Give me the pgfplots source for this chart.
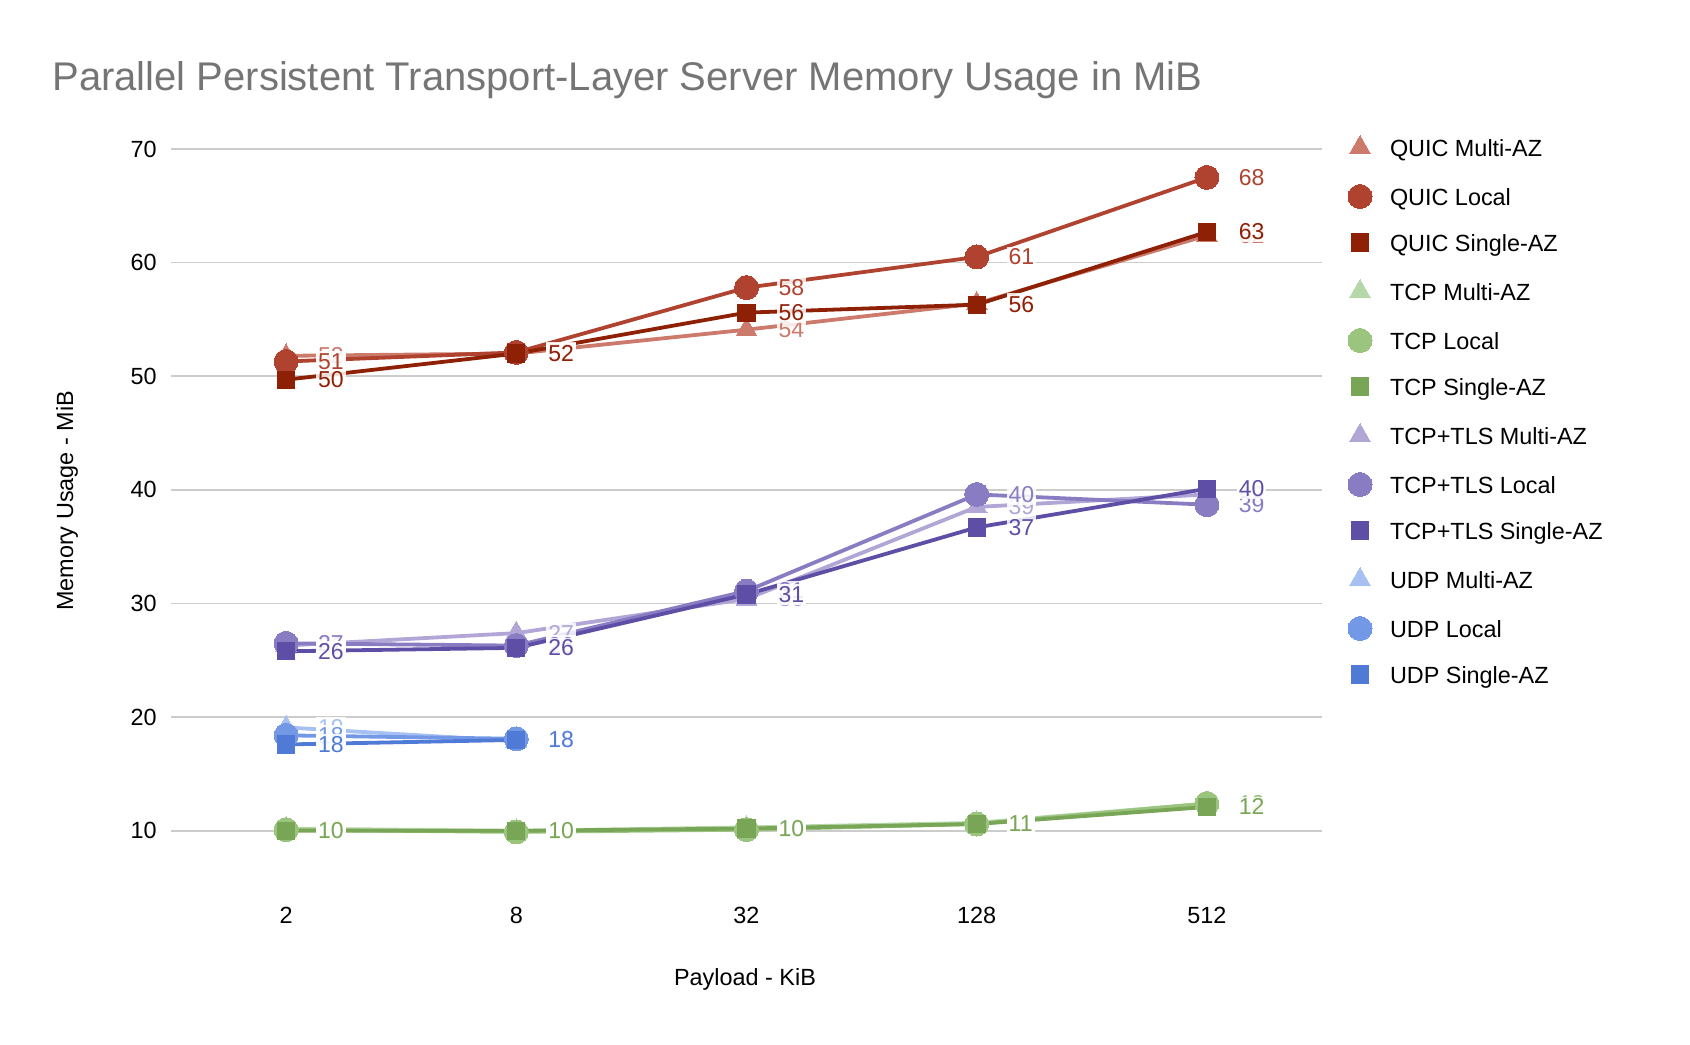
\documentclass[border=0pt]{standalone}
\usepackage{fontspec}
\setmainfont{Liberation Sans}
\usepackage{pgfplots}
\pgfplotsset{compat=1.18}

\definecolor{quicm}{HTML}{CC7A6B}
\definecolor{quicl}{HTML}{B0432F}
\definecolor{quics}{HTML}{8E2006}
\definecolor{tcpm}{HTML}{B6D7A8}
\definecolor{tcpl}{HTML}{9BC47F}
\definecolor{tcps}{HTML}{79A656}
\definecolor{tlsm}{HTML}{B1A6D6}
\definecolor{tlsl}{HTML}{8A7CC2}
\definecolor{tlss}{HTML}{5F4EA5}
\definecolor{udpm}{HTML}{A7C0F2}
\definecolor{udpl}{HTML}{7399E6}
\definecolor{udps}{HTML}{4F7AD6}
\definecolor{titlegray}{HTML}{757575}

\newcommand{\lblfont}{\fontsize{11.7}{14}\selectfont}
\newcommand{\valfont}{\fontsize{11.5}{14}\selectfont}
\newcommand{\titlefont}{\fontsize{20}{24}\selectfont}

\pgfplotsset{
  ser/.style={color=#1, line width=1.9pt,
    mark options={solid, line width=0pt, draw=#1, fill=#1},
    nodes near coords={\pgfmathprintnumber[fixed,precision=0]{\pgfplotspointmeta}},
    every node near coord/.append style={text=#1, font=\valfont, anchor=west,
      xshift=15pt, inner sep=1pt, fill=white, fill opacity=0.85, text opacity=1}},
  tri/.style={ser=#1, mark=triangle*, mark size=6pt},
  circ/.style={ser=#1, mark=*, mark size=6pt},
  sq/.style={ser=#1, mark=square*, mark size=4.3pt},
}

\begin{document}
\begin{tikzpicture}
\useasboundingbox (-85.5pt,-72.5pt) rectangle (759.5pt,449.5pt);
\begin{axis}[
  at={(0,0)}, anchor=south west,
  scale only axis, width=575.5pt, height=375pt,
  xmin=-0.5, xmax=4.5, ymin=4, ymax=70,
  xtick={0,1,2,3,4}, xticklabels={2,8,32,128,512},
  ytick={10,20,...,70},
  ymajorgrids=true,
  grid style={color=black!20, line width=0.8pt},
  axis line style={draw=none},
  major tick length=0pt,
  tick label style={font=\lblfont, text=black},
  xticklabel style={anchor=center, yshift=-8pt},
  yticklabel style={anchor=east, inner sep=0pt, xshift=-7pt},
  /pgf/number format/assume math mode=true,
  clip=false,
  legend image code/.code={\draw[#1] plot[only marks] coordinates {(0.3cm,1.5pt)};},
  legend cell align=left,
  legend style={draw=none, fill=none, inner sep=0pt, outer sep=0pt,
    at={(1.0226,1.018)}, anchor=north west, font=\lblfont,
    row sep=11pt, column sep=9pt,
    nodes={inner sep=0pt, text height=9pt, text depth=3pt}},
]
\addplot[tri=quicm] coordinates {(0,51.8)(1,52.0)(2,54.1)(3,56.4)(4,62.4)};
\addlegendentry{QUIC Multi-AZ}
\addplot[circ=quicl] coordinates {(0,51.3)(1,52.1)(2,57.8)(3,60.5)(4,67.5)};
\addlegendentry{QUIC Local}
\addplot[sq=quics] coordinates {(0,49.7)(1,52.0)(2,55.6)(3,56.3)(4,62.7)};
\addlegendentry{QUIC Single-AZ}
\addplot[tri=tcpm] coordinates {(0,10.2)(1,10.0)(2,10.3)(3,10.7)(4,12.4)};
\addlegendentry{TCP Multi-AZ}
\addplot[circ=tcpl] coordinates {(0,10.1)(1,9.9)(2,10.1)(3,10.6)(4,12.4)};
\addlegendentry{TCP Local}
\addplot[sq=tcps] coordinates {(0,10.0)(1,10.0)(2,10.2)(3,10.6)(4,12.1)};
\addlegendentry{TCP Single-AZ}
\addplot[tri=tlsm] coordinates {(0,26.3)(1,27.4)(2,30.4)(3,38.5)(4,39.6)};
\addlegendentry{TCP+TLS Multi-AZ}
\addplot[circ=tlsl] coordinates {(0,26.5)(1,26.3)(2,31.1)(3,39.6)(4,38.7)};
\addlegendentry{TCP+TLS Local}
\addplot[sq=tlss] coordinates {(0,25.8)(1,26.1)(2,30.8)(3,36.7)(4,40.1)};
\addlegendentry{TCP+TLS Single-AZ}
\addplot[tri=udpm] coordinates {(0,19.1)(1,17.9)};
\addlegendentry{UDP Multi-AZ}
\addplot[circ=udpl] coordinates {(0,18.4)(1,18.1)};
\addlegendentry{UDP Local}
\addplot[sq=udps] coordinates {(0,17.6)(1,18.0)};
\addlegendentry{UDP Single-AZ}
\end{axis}
\node[anchor=west, inner sep=0pt, text=titlegray, font=\titlefont] at (-59.5pt,409.5pt)
  {Parallel Persistent Transport-Layer Server Memory Usage in MiB};
\node[rotate=90, inner sep=0pt, font=\lblfont] at (-52pt,199pt) {Memory Usage - MiB};
\node[inner sep=0pt, font=\lblfont] at (287pt,-40pt) {Payload - KiB};
\end{tikzpicture}
\end{document}
